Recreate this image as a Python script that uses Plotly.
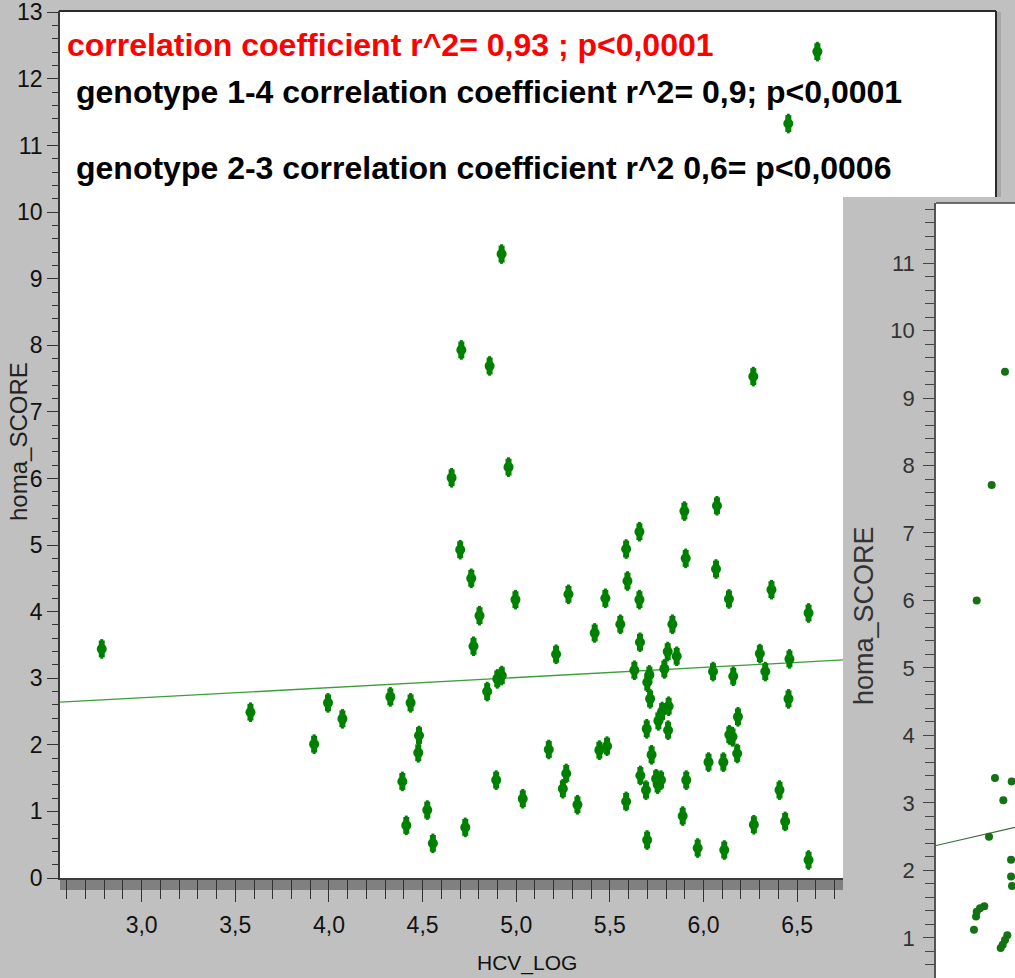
import plotly.graph_objects as go

# ---- main scatter: HCV viral load (log) vs HOMA score ----
hcv_log = [
    2.787, 3.581, 3.995, 4.072, 3.921, 4.328, 4.436, 4.481, 4.477, 4.392,
    4.525, 4.413, 4.555, 4.655, 4.701, 4.760, 4.804, 4.772, 4.996, 5.279,
    5.476, 5.587, 5.658, 5.594, 5.658, 5.556, 5.419, 5.213, 5.661, 5.898,
    6.072, 5.905, 6.067, 6.136, 6.363, 6.561, 5.834, 5.809, 5.857, 6.301,
    6.459, 6.330, 6.051, 6.159, 5.791, 5.631, 5.711, 5.700, 4.899, 4.923,
    4.845, 5.715, 5.814, 5.779, 5.759, 5.697, 5.811, 6.184, 6.138, 6.155,
    6.180, 6.454, 5.723, 5.174, 5.444, 5.485, 6.027, 6.106, 4.893, 5.267,
    5.249, 5.035, 5.327, 5.663, 5.747, 5.773, 5.755, 5.693, 5.908, 5.587,
    5.889, 6.406, 6.269, 6.436, 4.728, 5.699, 5.969, 6.111, 6.561, 4.922,
    4.707, 4.858, 6.266, 4.959, 6.608, 6.453,
]
homa_score = [
    3.44, 2.49, 2.63, 2.39, 2.01, 2.72, 2.63, 2.14, 1.88, 1.45,
    1.02, 0.79, 0.52, 6.01, 4.93, 4.50, 3.94, 3.48, 4.18, 4.26,
    4.20, 4.94, 5.20, 4.46, 4.18, 3.81, 3.68, 3.36, 3.54, 5.51,
    5.59, 4.80, 4.64, 4.19, 4.33, 3.98, 3.81, 3.40, 3.33, 3.37,
    3.29, 3.10, 3.10, 3.03, 3.14, 3.12, 3.05, 2.94, 2.99, 3.04,
    2.80, 2.69, 2.58, 2.50, 2.36, 2.24, 2.22, 2.42, 2.15, 2.12,
    1.87, 2.69, 1.85, 1.93, 1.92, 1.98, 1.74, 1.74, 1.47, 1.57,
    1.34, 1.19, 1.10, 1.54, 1.49, 1.47, 1.41, 1.32, 1.47, 1.15,
    0.93, 1.32, 0.80, 0.85, 0.76, 0.57, 0.45, 0.42, 0.27, 9.37,
    7.93, 7.69, 7.53, 6.17, 12.41, 11.33,
]
fit_intercept, fit_slope = 2.25, 0.152
x_range = [2.564, 6.745]
y_range = [0.0, 13.02]
x_ticks = [3.0, 3.5, 4.0, 4.5, 5.0, 5.5, 6.0, 6.5]

# ---- inset scatter (genotype subgroup) ----
inset_hcv = [
    2.870, 3.127, 3.006, 3.036, 3.188, 3.112, 2.982, 3.182, 3.182, 3.191,
    2.939, 2.900, 2.870, 2.864, 2.845, 3.148, 3.127, 3.106, 3.088,
]
inset_homa = [
    6.00, 9.39, 7.71, 3.37, 3.32, 3.04, 2.50, 2.16, 1.91, 1.77,
    1.47, 1.44, 1.39, 1.32, 1.12, 1.04, 0.97, 0.90, 0.85,
]
inset_fit_intercept, inset_fit_slope = 1.43, 0.376
inset_x_range = [2.5, 3.218]
inset_y_range = [0.407, 11.889]

annot_lines = [
    "correlation coefficient r^2= 0,93 ; p<0,0001",
    "genotype 1-4 correlation coefficient r^2= 0,9; p<0,0001",
    "genotype 2-3 correlation coefficient r^2 0,6= p<0,0006",
]

W, H = 1015, 978


def fx(p):
    return p / W


def fy(p):
    return 1 - p / H


GREEN = "#008000"
SANS = "Liberation Sans, Arial, Helvetica"
AX = "#333333"

fig = go.Figure()

# regression line (main)
fx0, fx1 = x_range
fig.add_trace(go.Scatter(
    x=[fx0, fx1],
    y=[fit_intercept + fit_slope * fx0, fit_intercept + fit_slope * fx1],
    mode="lines", line=dict(color="#3a9e3a", width=1.3),
    hoverinfo="skip", showlegend=False, xaxis="x", yaxis="y",
))
# points drawn as tall ovals: a round dot stacked with two vertical bars
for sym, size, lw in [("line-ns", 14, 3), ("line-ns", 12, 6)]:
    fig.add_trace(go.Scatter(
        x=hcv_log, y=homa_score, mode="markers",
        marker=dict(symbol=sym, size=size, line=dict(width=lw, color=GREEN)),
        showlegend=False, xaxis="x", yaxis="y", hoverinfo="skip",
    ))
fig.add_trace(go.Scatter(
    x=hcv_log, y=homa_score, mode="markers",
    marker=dict(symbol="circle", size=10, color=GREEN, line=dict(width=0)),
    showlegend=False, xaxis="x", yaxis="y",
))

# inset
ix0, ix1 = inset_x_range
fig.add_trace(go.Scatter(
    x=[ix0, ix1],
    y=[inset_fit_intercept + inset_fit_slope * ix0, inset_fit_intercept + inset_fit_slope * ix1],
    mode="lines", line=dict(color="#3f6a3f", width=1.2),
    hoverinfo="skip", showlegend=False, xaxis="x2", yaxis="y2",
))
fig.add_trace(go.Scatter(
    x=inset_hcv, y=inset_homa, mode="markers",
    marker=dict(symbol="circle", size=8, color="#137213", line=dict(width=0)),
    showlegend=False, xaxis="x2", yaxis="y2",
))

shapes = [
    # white extension of the main plot area behind the text box
    dict(type="rect", xref="paper", yref="paper", x0=fx(843), x1=fx(995), y0=fy(197), y1=fy(11),
         fillcolor="white", line=dict(width=0), layer="below"),
    # frame lines
    dict(type="line", xref="paper", yref="paper", x0=fx(59), x1=fx(996), y0=fy(11), y1=fy(11),
         line=dict(color="#2a2a2a", width=2)),
    dict(type="line", xref="paper", yref="paper", x0=fx(996), x1=fx(996), y0=fy(11), y1=fy(197),
         line=dict(color="#2a2a2a", width=2)),
    dict(type="rect", xref="paper", yref="paper", x0=fx(997), x1=fx(1001), y0=fy(197), y1=fy(12),
         fillcolor="#a8a8a8", line=dict(width=0)),
    # dark band under the x axis
    dict(type="rect", xref="paper", yref="paper", x0=fx(60), x1=fx(843), y0=fy(890), y1=fy(879),
         fillcolor="#808080", line=dict(width=0), layer="below"),
    # inset top edge
    dict(type="line", xref="paper", yref="paper", x0=fx(936), x1=1, y0=fy(203), y1=fy(203),
         line=dict(color="#444444", width=1.5)),
]

annotations = [
    dict(text=annot_lines[0], xref="paper", yref="paper", x=fx(65), y=fy(45),
         xanchor="left", yanchor="middle", showarrow=False,
         font=dict(family=SANS, size=32, color="#ff0000", weight="bold")),
    dict(text=annot_lines[1], xref="paper", yref="paper", x=fx(74), y=fy(92),
         xanchor="left", yanchor="middle", showarrow=False,
         font=dict(family=SANS, size=32, color="#000000", weight="bold")),
    dict(text=annot_lines[2], xref="paper", yref="paper", x=fx(74), y=fy(168),
         xanchor="left", yanchor="middle", showarrow=False,
         font=dict(family=SANS, size=32, color="#000000", weight="bold")),
    # axis titles
    dict(text="homa_SCORE", xref="paper", yref="paper", x=fx(18), y=fy(442),
         xanchor="center", yanchor="middle", textangle=-90, showarrow=False,
         font=dict(family=SANS, size=24, color="#222222")),
    dict(text="HCV_LOG", xref="paper", yref="paper", x=fx(527), y=fy(963),
         xanchor="center", yanchor="middle", showarrow=False,
         font=dict(family=SANS, size=21, color="#111111")),
    dict(text="homa_SCORE", xref="paper", yref="paper", x=fx(864), y=fy(616),
         xanchor="center", yanchor="middle", textangle=-90, showarrow=False,
         font=dict(family=SANS, size=27, color="#333333")),
]

fig.update_layout(
    template="none",
    width=W, height=H, margin=dict(l=0, r=0, t=0, b=0, pad=0),
    paper_bgcolor="#c0c0c0", plot_bgcolor="white",
    separators=",.", showlegend=False,
    shapes=shapes, annotations=annotations,
    xaxis=dict(
        domain=[fx(60), fx(843)], range=x_range, tickvals=x_ticks, tickformat=".1f",
        showgrid=False, zeroline=False, showline=True, linecolor="#3a3a3a", linewidth=1.5,
        ticks="outside", ticklen=22, tickwidth=1, tickcolor=AX,
        minor=dict(dtick=0.1, tick0=3.0, ticks="outside", ticklen=19, tickwidth=1, tickcolor=AX, showgrid=False),
        tickfont=dict(family=SANS, size=23, color="#111111"),
        ticklabelstandoff=4, automargin=False,
        anchor="y", fixedrange=True,
    ),
    yaxis=dict(
        domain=[fy(878), fy(11)], range=y_range, dtick=1, tick0=0,
        showgrid=False, zeroline=False, showline=True, linecolor="#3a3a3a", linewidth=1.5,
        ticks="outside", ticklen=11, tickwidth=1, tickcolor=AX,
        minor=dict(dtick=0.2, tick0=0, ticks="outside", ticklen=6, tickwidth=1, tickcolor=AX, showgrid=False),
        tickfont=dict(family=SANS, size=23, color="#111111"),
        ticklabeloverflow="allow", automargin=False,
        anchor="x", fixedrange=True,
    ),
    xaxis2=dict(
        domain=[fx(936), 1.0], range=inset_x_range, visible=False,
        showgrid=False, zeroline=False, anchor="y2", fixedrange=True, automargin=False,
    ),
    yaxis2=dict(
        domain=[0.0, fy(203)], range=inset_y_range, dtick=1, tick0=0,
        showgrid=False, zeroline=False, showline=True, linecolor="#555555", linewidth=1.5,
        ticks="outside", ticklen=11, tickwidth=1.2, tickcolor="#444444",
        minor=dict(dtick=0.2, tick0=0, ticks="outside", ticklen=9, tickwidth=1.2, tickcolor="#444444", showgrid=False),
        tickfont=dict(family=SANS, size=22, color="#333333"),
        ticklabelstandoff=4, automargin=False,
        anchor="x2", fixedrange=True,
    ),
)

fig.write_html("out.html")
